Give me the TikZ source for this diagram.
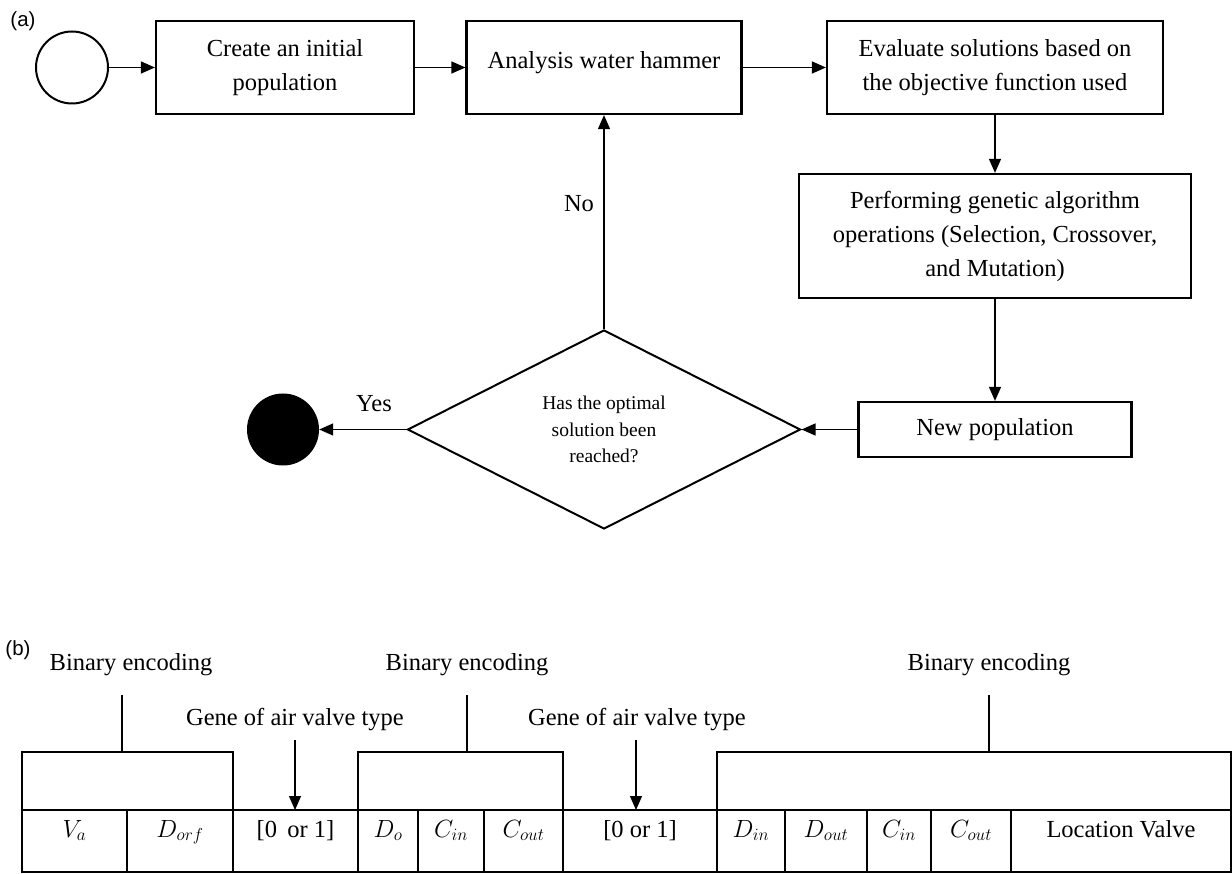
\documentclass[tikz,border=0pt]{standalone}
\usepackage{fontspec}
\setmainfont{Liberation Serif}
\newfontfamily\tagfont{Liberation Sans}
\usetikzlibrary{shapes.geometric,arrows.meta}

\newcommand{\flowsize}{\fontsize{24.5pt}{34pt}\selectfont}
\newcommand{\asksize}{\fontsize{19.5pt}{26.5pt}\selectfont}
\newcommand{\tagsize}{\tagfont\fontsize{20.5pt}{24pt}\selectfont}

\begin{document}
\begin{tikzpicture}[x=1pt,y=-1pt,
    procbox/.style={draw, line width=2.2pt, align=center, inner sep=0pt, font=\flowsize},
    flowarrow/.style={-{Triangle[length=14pt,width=12pt]}, line width=1.3pt},
    tabline/.style={line width=1.3pt},
    txt/.style={font=\flowsize, inner sep=0pt}]
        \useasboundingbox (0,0) rectangle (1232,874);

        % (a) the genetic algorithm loop
        \node[font=\tagsize, inner sep=0pt] (taga) at (23,21) {(a)};
        \node[draw, circle, line width=2pt, minimum size=72pt, inner sep=0pt] (start) at (72,67.5) {};
        \node[procbox, minimum width=258pt, minimum height=93pt] (init) at (285,67.5) {Create an initial\\population};
        \node[procbox, minimum width=275pt, minimum height=93pt] (water) at (604,67.5) {\raisebox{5pt}[\height][\depth]{Analysis water hammer}};
        \node[procbox, minimum width=336pt, minimum height=93pt] (evaluate) at (995,67.5) {Evaluate solutions based on\\the objective function used};
        \node[procbox, minimum width=392pt, minimum height=124pt] (genetic) at (995,236) {Performing genetic algorithm\\operations (Selection, Crossover,\\and Mutation)};
        \node[procbox, minimum width=273pt, minimum height=55pt] (newpop) at (995,429.5) {New population};
        \node[diamond, draw, line width=2pt, shape aspect=2, minimum width=393pt, minimum height=199pt,
              inner sep=0pt, align=center, font=\asksize] (check) at (604,429.5) {Has the optimal\\solution been\\reached?};
        \node[circle, fill=black, minimum size=72pt, inner sep=0pt] (finish) at (283,429.5) {};

        % arrows of the loop
        \draw[flowarrow] (start) -- (init);
        \draw[flowarrow] (init) -- (water);
        \draw[flowarrow] (water) -- (evaluate);
        \draw[flowarrow] (evaluate) -- (genetic);
        \draw[flowarrow] (genetic) -- (newpop);
        \draw[flowarrow] (newpop) -- (check);
        \draw[flowarrow] (check) -- (water);
        \draw[flowarrow] (check) -- (finish);
        \node[txt] (no) at (579,204) {No};
        \node[txt] (yes) at (374,403.5) {Yes};

        % (b) the chromosome
        \node[font=\tagsize, inner sep=0pt] (tagb) at (18,650) {(b)};
        \node[txt, anchor=base] (enc1) at (131,670) {Binary encoding};
        \node[txt, anchor=base] (enc2) at (467,670) {Binary encoding};
        \node[txt, anchor=base] (enc3) at (989,670) {Binary encoding};
        \node[txt, anchor=base] (gene1) at (295,725) {Gene of air valve type};
        \node[txt, anchor=base] (gene2) at (637,725) {Gene of air valve type};

        % brackets over the encoded parts
        \coordinate (b1top) at (122,695); \coordinate (b1bot) at (122,752);
        \coordinate (b2top) at (467,695); \coordinate (b2bot) at (467,752);
        \coordinate (b3top) at (989,695); \coordinate (b3bot) at (989,752);
        \draw[tabline] (b1top) -- (b1bot);
        \draw[tabline] (b2top) -- (b2bot);
        \draw[tabline] (b3top) -- (b3bot);
        \draw[tabline] (22,810) -- (22,752) -- (233,752) -- (233,810);
        \draw[tabline] (358,810) -- (358,752) -- (563,752) -- (563,810);
        \draw[tabline] (717,810) -- (717,752) -- (1231,752) -- (1231,810);

        % type genes
        \coordinate (g1from) at (295,740); \coordinate (g1to) at (295,810);
        \coordinate (g2from) at (636,740); \coordinate (g2to) at (636,810);
        \draw[flowarrow] (g1from) -- (g1to);
        \draw[flowarrow] (g2from) -- (g2to);

        % the row of cells
        \draw[tabline] (22,810) rectangle (1231,872);
        \draw[line width=2pt] (22,810) -- (1231,810) (22,872) -- (1231,872);
        \draw[tabline] (127,810) -- (127,872) (233,810) -- (233,872) (358,810) -- (358,872)
            (418,810) -- (418,872) (484,810) -- (484,872) (563,810) -- (563,872)
            (717,810) -- (717,872) (785,810) -- (785,872) (867,810) -- (867,872)
            (931,810) -- (931,872) (1011,810) -- (1011,872);
        \node[txt, anchor=base] (va) at (74.5,837) {$V_a$};
        \node[txt, anchor=base] (dorf) at (180,837) {$D_{orf}$};
        \node[txt, anchor=base] (type1) at (295.5,837) {[0\,\ or 1]};
        \node[txt, anchor=base] (do) at (388,837) {$D_o$};
        \node[txt, anchor=base] (cin1) at (451,837) {$C_{in}$};
        \node[txt, anchor=base] (cout1) at (523.5,837) {$C_{out}$};
        \node[txt, anchor=base] (type2) at (640,837) {[0 or 1]};
        \node[txt, anchor=base] (din) at (751,837) {$D_{in}$};
        \node[txt, anchor=base] (dout) at (826,837) {$D_{out}$};
        \node[txt, anchor=base] (cin2) at (899,837) {$C_{in}$};
        \node[txt, anchor=base] (cout2) at (971,837) {$C_{out}$};
        \node[txt, anchor=base] (loc) at (1121,837) {Location Valve};
\end{tikzpicture}
\end{document}
